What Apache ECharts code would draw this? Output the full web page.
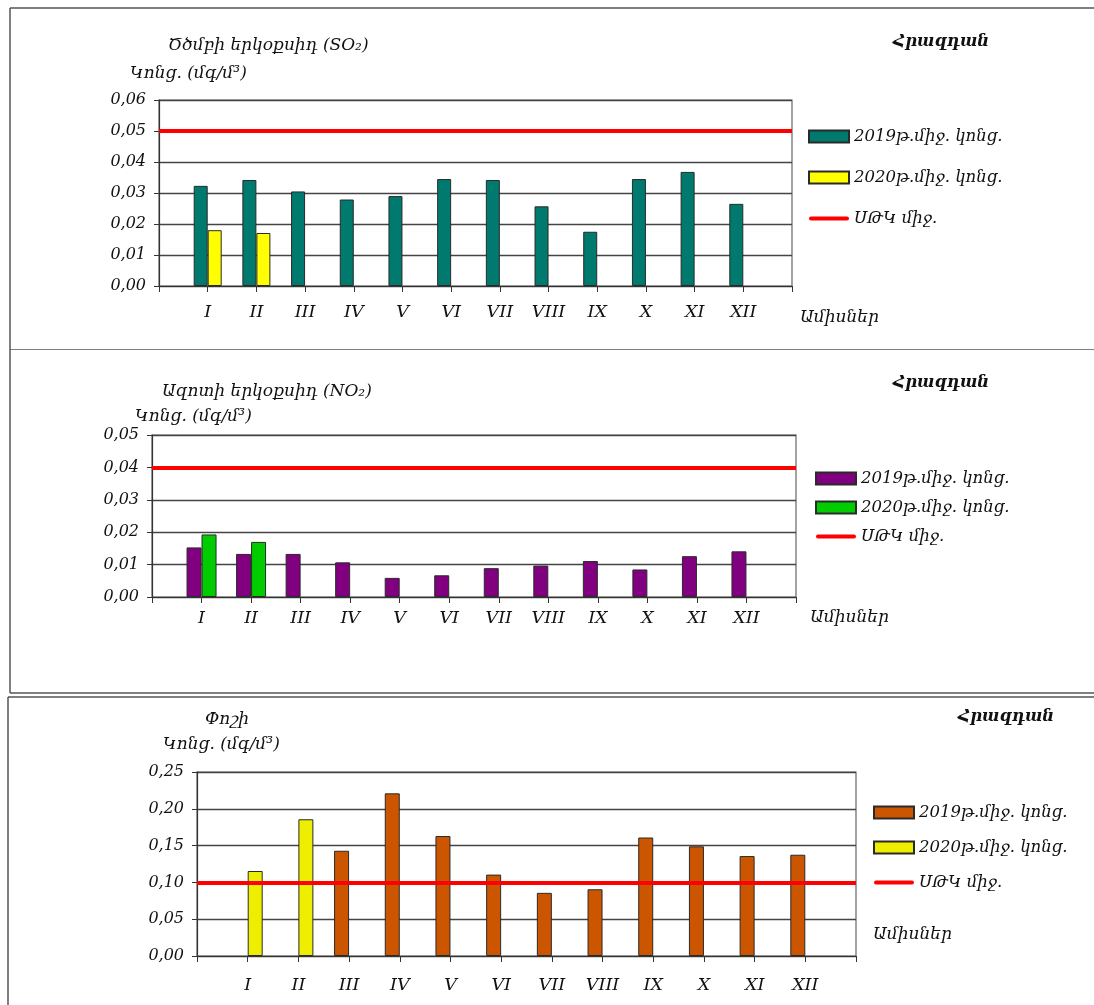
<!DOCTYPE html>
<html><head><meta charset="utf-8">
<script src="https://cdn.jsdelivr.net/npm/echarts@6/dist/echarts.min.js"></script>
<style>
html,body{margin:0;padding:0;background:#fff;}
#wrap{position:relative;width:1094px;height:1005px;overflow:hidden;background:#fff;}
.p{position:absolute;left:0;width:1094px;}
</style></head><body>
<div id="wrap">
<div id="c1" class="p" style="top:0;height:350px"></div>
<div id="c2" class="p" style="top:350px;height:345px"></div>
<div id="c3" class="p" style="top:695px;height:310px"></div>
</div>
<script>
// ---- data ----
const months = ['I','II','III','IV','V','VI','VII','VIII','IX','X','XI','XII'];
const seriesNames = ['2019թ.միջ. կոնց.', '2020թ.միջ. կոնց.', 'ՍԹԿ միջ.'];

const so2_2019 = [0.0323, 0.0342, 0.0305, 0.0279, 0.0290, 0.0345, 0.0342, 0.0257, 0.0175, 0.0345, 0.0368, 0.0265];
const so2_2020 = [0.0180, 0.0171, null, null, null, null, null, null, null, null, null, null];
const so2_limit = 0.05;
const so2_ticks = [0, 0.06, 0.01];

const no2_2019 = [0.0153, 0.0133, 0.0133, 0.0107, 0.0059, 0.0067, 0.0089, 0.0097, 0.0111, 0.0085, 0.0126, 0.0141];
const no2_2020 = [0.0193, 0.0170, null, null, null, null, null, null, null, null, null, null];
const no2_limit = 0.04;
const no2_ticks = [0, 0.05, 0.01];

const dust_2019 = [null, null, 0.143, 0.221, 0.163, 0.1106, 0.0858, 0.0907, 0.161, 0.149, 0.1358, 0.1376];
const dust_2020 = [0.1155, 0.1858, null, null, null, null, null, null, null, null, null, null];
const dust_limit = 0.10;
const dust_ticks = [0, 0.25, 0.05];

// ---- styling helpers ----
const ARM = '"DejaVu Serif", "DejaVu Sans", serif';
const NUM = '"DejaVu Serif", "Liberation Serif", serif';

function pad(arr) { return [null].concat(arr, [null]); }

function build(cfg) {
  const cats = [''].concat(months, ['']);
  const g = cfg.grid;
  const texts = cfg.texts.map(t => ({
    type: 'text', x: t.x, y: t.y, z: 10,
    style: { text: t.text, font: t.font, fill: '#111', verticalAlign: 'middle', align: 'left' }
  }));
  const lines = cfg.borders.map(b => ({
    type: 'line', z: 10,
    shape: { x1: b[0], y1: b[1], x2: b[2], y2: b[3] },
    style: { stroke: '#555', lineWidth: 1.5 }
  }));
  return {
    animation: false,
    backgroundColor: 'transparent',
    grid: { left: g.left, top: g.top, width: g.width, height: g.height, show: true,
            borderColor: '#666', borderWidth: 1.2, containLabel: false },
    xAxis: {
      type: 'category', data: cats, boundaryGap: false,
      axisLine: { show: true, lineStyle: { color: '#333', width: 1.2 } },
      axisTick: { show: true, length: 6, interval: 0, lineStyle: { color: '#333' } },
      axisLabel: { interval: 0, margin: cfg.xMargin, color: '#111',
                   fontFamily: NUM, fontStyle: 'italic', fontSize: 17.5 },
      splitLine: { show: false }
    },
    yAxis: {
      type: 'value', min: cfg.ticks[0], max: cfg.ticks[1], interval: cfg.ticks[2],
      axisLine: { show: true, lineStyle: { color: '#333', width: 1.2 } },
      axisTick: { show: true, length: 5, lineStyle: { color: '#333' } },
      axisLabel: { margin: 13, color: '#111', fontFamily: NUM, fontStyle: 'italic', fontSize: 16,
                   formatter: v => v.toFixed(2).replace('.', ',') },
      splitLine: { show: true, lineStyle: { color: '#444', width: 1.4 } }
    },
    legend: {
      orient: 'vertical', left: cfg.legend.left, top: cfg.legend.top, padding: 0,
      itemWidth: 40, itemHeight: 12, itemGap: cfg.legend.gap,
      textStyle: { fontFamily: ARM, fontStyle: 'italic', fontSize: 16.5, color: '#111', lineHeight: 16 },
      data: [
        { name: seriesNames[0], icon: 'rect' },
        { name: seriesNames[1], icon: 'rect' },
        { name: seriesNames[2], icon: 'path://M2,0 L38,0 A2,2 0 0 1 38,4 L2,4 A2,2 0 0 1 2,0 Z',
          itemStyle: { color: '#ff0000', borderWidth: 0 } }
      ],
      selectedMode: false
    },
    series: [
      { name: seriesNames[0], type: 'bar', data: pad(cfg.s2019), barWidth: cfg.barWidth, barGap: '0%',
        itemStyle: { color: cfg.c2019, borderColor: '#2a2a2a', borderWidth: 1 } },
      { name: seriesNames[1], type: 'bar', data: pad(cfg.s2020), barWidth: cfg.barWidth, barGap: '0%',
        itemStyle: { color: cfg.c2020, borderColor: '#2a2a2a', borderWidth: 1 } },
      { name: seriesNames[2], type: 'line', data: [], z: 5,
        itemStyle: { color: '#ff0000' }, lineStyle: { color: '#ff0000', width: 4 },
        markLine: { silent: true, symbol: 'none', label: { show: false },
                    lineStyle: { color: '#ff0000', width: 4, type: 'solid' },
                    data: [{ yAxis: cfg.limit }] } }
    ],
    graphic: texts.concat(lines)
  };
}

const F = 'italic 17px ' + ARM;
const FB = 'italic bold 16.5px ' + ARM;

const cfg1 = {
  grid: { left: 159, top: 100, width: 633, height: 186 },
  ticks: so2_ticks, s2019: so2_2019, s2020: so2_2020, limit: so2_limit,
  c2019: '#00796f', c2020: '#ffff00', barWidth: 14, xMargin: 17,
  legend: { left: 808, top: 128, gap: 24 },
  texts: [
    { text: 'Ծծմբի երկօքսիդ (SO₂)', x: 168, y: 46, font: F },
    { text: 'Կոնց. (մգ/մ³)', x: 130, y: 74, font: F },
    { text: 'Հրազդան', x: 893, y: 42, font: FB },
    { text: 'Ամիսներ', x: 800, y: 318, font: F }
  ],
  borders: [[10, 8, 10, 350], [10, 8, 1094, 8], [10, 350, 1094, 350]]
};
const cfg2 = {
  grid: { left: 152, top: 85, width: 644, height: 162 },
  ticks: no2_ticks, s2019: no2_2019, s2020: no2_2020, limit: no2_limit,
  c2019: '#800080', c2020: '#00cc00', barWidth: 15, xMargin: 12,
  legend: { left: 815, top: 120, gap: 12 },
  texts: [
    { text: 'Ազոտի երկօքսիդ (NO₂)', x: 162, y: 42, font: F },
    { text: 'Կոնց. (մգ/մ³)', x: 135, y: 67, font: F },
    { text: 'Հրազդան', x: 893, y: 33, font: FB },
    { text: 'Ամիսներ', x: 810, y: 268, font: F }
  ],
  borders: [[10, 0, 10, 343], [10, 343, 1094, 343]]
};
const cfg3 = {
  grid: { left: 197, top: 77, width: 659, height: 184 },
  ticks: dust_ticks, s2019: dust_2019, s2020: dust_2020, limit: dust_limit,
  c2019: '#cc5500', c2020: '#eeee00', barWidth: 15, xMargin: 20,
  legend: { left: 873, top: 109, gap: 18 },
  texts: [
    { text: 'Փոշի', x: 205, y: 25, font: F },
    { text: 'Կոնց. (մգ/մ³)', x: 163, y: 50, font: F },
    { text: 'Հրազդան', x: 958, y: 22, font: FB },
    { text: 'Ամիսներ', x: 873, y: 240, font: F }
  ],
  borders: [[8, 2, 1094, 2], [8, 2, 8, 310]]
};

[['c1', cfg1], ['c2', cfg2], ['c3', cfg3]].forEach(([id, cfg]) => {
  const chart = echarts.init(document.getElementById(id), null, { renderer: 'canvas' });
  chart.setOption(build(cfg));
});
</script>
</body></html>
